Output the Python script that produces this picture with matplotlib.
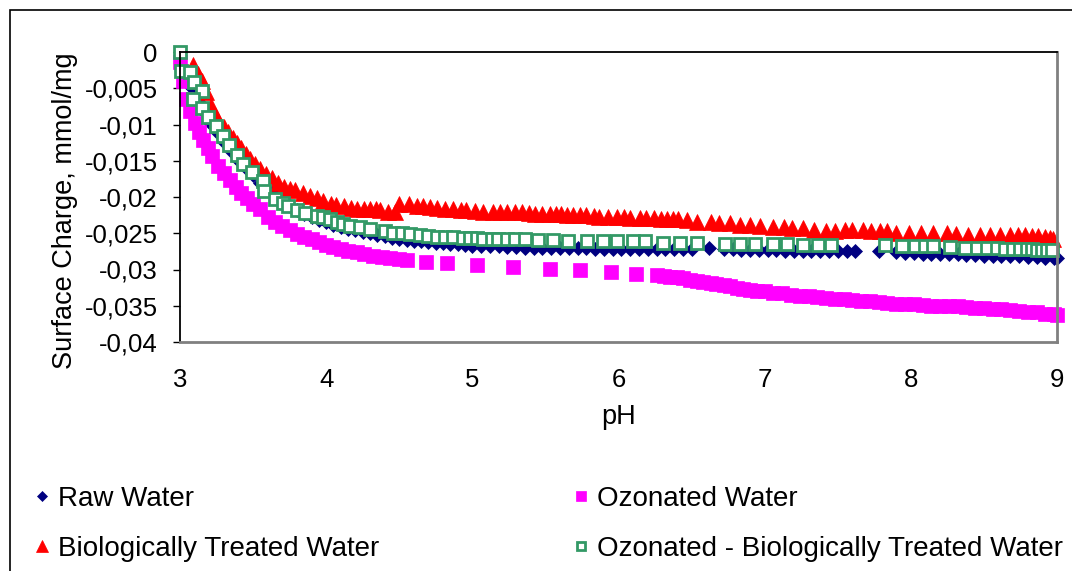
import matplotlib
matplotlib.use("Agg")
import matplotlib.pyplot as plt
from matplotlib.patches import Rectangle

plt.rcParams['font.family'] = ['Liberation Sans', 'DejaVu Sans']

# dados
raw_ph = [3.00, 3.04, 3.08, 3.12, 3.16, 3.20, 3.25, 3.30, 3.35, 3.40, 3.45, 3.50, 3.55, 3.60, 3.65,
          3.70, 3.75, 3.80, 3.85, 3.90, 3.95, 4.00, 4.05, 4.10, 4.15, 4.20, 4.25, 4.30, 4.35, 4.40,
          4.45, 4.50, 4.55, 4.60, 4.65, 4.70, 4.75, 4.80, 4.85, 4.90, 4.95, 5.00, 5.06, 5.12, 5.18,
          5.24, 5.30, 5.36, 5.42, 5.48, 5.54, 5.60, 5.66, 5.72, 5.78, 5.84, 5.90, 5.96, 6.02, 6.08,
          6.14, 6.20, 6.26, 6.32, 6.38, 6.44, 6.50, 6.62, 6.72, 6.78, 6.84, 6.90, 6.96, 7.02, 7.08,
          7.14, 7.20, 7.26, 7.32, 7.38, 7.44, 7.50, 7.56, 7.62, 7.78, 7.90, 7.96, 8.02, 8.08, 8.14,
          8.20, 8.26, 8.32, 8.38, 8.44, 8.50, 8.56, 8.62, 8.68, 8.74, 8.80, 8.86, 8.92, 8.98, 9.00]
raw_q = [-0.0008, -0.0032, -0.0050, -0.0067, -0.0082, -0.0096, -0.0111, -0.0124, -0.0137, -0.0149,
         -0.0160, -0.0170, -0.0180, -0.0189, -0.0197, -0.0205, -0.0212, -0.0218, -0.0223, -0.0228,
         -0.0232, -0.0235, -0.0238, -0.0241, -0.0244, -0.0246, -0.0248, -0.0250, -0.0252, -0.0254,
         -0.0256, -0.0258, -0.0259, -0.0260, -0.0261, -0.0262, -0.0263, -0.0264, -0.0265, -0.0265,
         -0.0266, -0.0267, -0.0267, -0.0268, -0.0268, -0.0269, -0.0269, -0.0270, -0.0270, -0.0270,
         -0.0271, -0.0271, -0.0271, -0.0271, -0.0271, -0.0272, -0.0272, -0.0272, -0.0272, -0.0272,
         -0.0272, -0.0272, -0.0272, -0.0272, -0.0272, -0.0272, -0.0272, -0.0271, -0.0272, -0.0272,
         -0.0273, -0.0273, -0.0273, -0.0273, -0.0273, -0.0274, -0.0274, -0.0274, -0.0274, -0.0275,
         -0.0275, -0.0275, -0.0275, -0.0275, -0.0275, -0.0276, -0.0277, -0.0277, -0.0278, -0.0278,
         -0.0278, -0.0279, -0.0279, -0.0280, -0.0280, -0.0281, -0.0281, -0.0281, -0.0282, -0.0282,
         -0.0283, -0.0283, -0.0284, -0.0284, -0.0284]

oz_ph = [3.00, 3.02, 3.04, 3.07, 3.10, 3.13, 3.16, 3.19, 3.22, 3.26, 3.30, 3.34, 3.38, 3.42, 3.46,
         3.50, 3.55, 3.60, 3.65, 3.70, 3.75, 3.80, 3.85, 3.90, 3.95, 4.00, 4.05, 4.10, 4.15, 4.21,
         4.26, 4.32, 4.38, 4.44, 4.50, 4.55, 4.68, 4.83, 5.03, 5.28, 5.53, 5.74, 5.95, 6.12, 6.26,
         6.31, 6.35, 6.40, 6.44, 6.49, 6.54, 6.58, 6.63, 6.67, 6.72, 6.76, 6.81, 6.85, 6.90, 6.95,
         7.00, 7.06, 7.12, 7.18, 7.24, 7.30, 7.36, 7.42, 7.48, 7.54, 7.60, 7.66, 7.72, 7.78, 7.84,
         7.90, 7.96, 8.02, 8.08, 8.14, 8.20, 8.26, 8.32, 8.38, 8.44, 8.50, 8.56, 8.62, 8.68, 8.74,
         8.80, 8.86, 8.92, 8.98, 9.00]
oz_q = [-0.0014, -0.0040, -0.0065, -0.0082, -0.0098, -0.0110, -0.0122, -0.0133, -0.0144, -0.0157,
        -0.0167, -0.0177, -0.0186, -0.0195, -0.0202, -0.0209, -0.0217, -0.0227, -0.0234, -0.0240,
        -0.0245, -0.0251, -0.0255, -0.0258, -0.0262, -0.0266, -0.0269, -0.0272, -0.0274, -0.0276,
        -0.0279, -0.0281, -0.0283, -0.0284, -0.0286, -0.0287, -0.0290, -0.0291, -0.0294, -0.0296,
        -0.0299, -0.0301, -0.0303, -0.0306, -0.0308, -0.0309, -0.0310, -0.0311, -0.0312, -0.0314,
        -0.0316, -0.0317, -0.0318, -0.0320, -0.0322, -0.0323, -0.0325, -0.0327, -0.0328, -0.0329,
        -0.0330, -0.0332, -0.0333, -0.0335, -0.0336, -0.0337, -0.0338, -0.0339, -0.0340, -0.0341,
        -0.0342, -0.0343, -0.0344, -0.0345, -0.0346, -0.0347, -0.0348, -0.0348, -0.0349, -0.0350,
        -0.0350, -0.0351, -0.0351, -0.0352, -0.0353, -0.0353, -0.0354, -0.0355, -0.0356, -0.0357,
        -0.0358, -0.0359, -0.0361, -0.0362, -0.0363]

bio_ph = [3.09, 3.12, 3.15, 3.18, 3.21, 3.24, 3.27, 3.30, 3.33, 3.36, 3.39, 3.42, 3.45, 3.48, 3.51,
          3.55, 3.59, 3.63, 3.67, 3.71, 3.75, 3.79, 3.84, 3.89, 3.94, 3.98, 4.03, 4.07, 4.12, 4.17,
          4.21, 4.26, 4.30, 4.34, 4.37, 4.42, 4.47, 4.50, 4.57, 4.62, 4.66, 4.71, 4.76, 4.81, 4.87,
          4.92, 4.96, 5.02, 5.07, 5.14, 5.19, 5.24, 5.29, 5.34, 5.39, 5.43, 5.48, 5.53, 5.57, 5.61,
          5.65, 5.69, 5.74, 5.78, 5.83, 5.87, 5.93, 5.99, 6.04, 6.08, 6.15, 6.19, 6.24, 6.29, 6.33,
          6.37, 6.41, 6.47, 6.54, 6.63, 6.69, 6.76, 6.83, 6.90, 6.97, 7.06, 7.13, 7.19, 7.26, 7.34,
          7.42, 7.48, 7.55, 7.60, 7.67, 7.73, 7.79, 7.84, 7.90, 7.99, 8.07, 8.15, 8.25, 8.31, 8.39,
          8.47, 8.54, 8.61, 8.68, 8.73, 8.78, 8.83, 8.87, 8.92, 8.95, 8.97]
bio_q = [-0.0018, -0.0030, -0.0040, -0.0055, -0.0074, -0.0087, -0.0096, -0.0103, -0.0110, -0.0118,
         -0.0126, -0.0133, -0.0140, -0.0148, -0.0155, -0.0162, -0.0168, -0.0174, -0.0180, -0.0186,
         -0.0189, -0.0191, -0.0195, -0.0199, -0.0202, -0.0205, -0.0209, -0.0211, -0.0213, -0.0215,
         -0.0216, -0.0217, -0.0217, -0.0217, -0.0218, -0.0220, -0.0221, -0.0209, -0.0210, -0.0212,
         -0.0213, -0.0214, -0.0215, -0.0216, -0.0217, -0.0218, -0.0218, -0.0219, -0.0220, -0.0221,
         -0.0220, -0.0220, -0.0221, -0.0221, -0.0222, -0.0223, -0.0223, -0.0223, -0.0224, -0.0224,
         -0.0225, -0.0225, -0.0225, -0.0225, -0.0226, -0.0227, -0.0227, -0.0227, -0.0228, -0.0229,
         -0.0229, -0.0229, -0.0229, -0.0230, -0.0231, -0.0231, -0.0231, -0.0232, -0.0234, -0.0234,
         -0.0236, -0.0236, -0.0238, -0.0238, -0.0240, -0.0241, -0.0241, -0.0243, -0.0243, -0.0245,
         -0.0247, -0.0247, -0.0245, -0.0245, -0.0246, -0.0247, -0.0247, -0.0247, -0.0249, -0.0249,
         -0.0249, -0.0250, -0.0250, -0.0251, -0.0252, -0.0252, -0.0252, -0.0252, -0.0253, -0.0253,
         -0.0253, -0.0254, -0.0254, -0.0255, -0.0257, -0.0258]

ozbio_ph = [3.000, 3.005, 3.068, 3.096, 3.148, 3.089, 3.148, 3.192, 3.246, 3.292, 3.335, 3.388, 3.431,
            3.491, 3.568, 3.575, 3.650, 3.705, 3.739, 3.798, 3.855, 3.935, 3.978, 4.026, 4.072, 4.115,
            4.163, 4.230, 4.300, 4.402, 4.457, 4.517, 4.573, 4.642, 4.697, 4.756, 4.813, 4.868, 4.936,
            4.984, 5.030, 5.073, 5.132, 5.176, 5.235, 5.292, 5.360, 5.449, 5.552, 5.654, 5.784, 5.894,
            5.990, 6.099, 6.181, 6.304, 6.420, 6.537, 6.728, 6.831, 6.934, 7.057, 7.153, 7.262, 7.365,
            7.454, 7.823, 7.939, 8.028, 8.097, 8.152, 8.268, 8.370, 8.453, 8.521, 8.590, 8.644, 8.699,
            8.747, 8.795, 8.829, 8.863, 8.897, 8.932, 8.966]
ozbio_q = [0.0, -0.00257, -0.00271, -0.00408, -0.00532, -0.00646, -0.00770, -0.00903, -0.01027,
           -0.01155, -0.01278, -0.01416, -0.01540, -0.01659, -0.01783, -0.01920, -0.02034, -0.02089,
           -0.02127, -0.02181, -0.02217, -0.02264, -0.02280, -0.02309, -0.02346, -0.02378, -0.02401,
           -0.02420, -0.02447, -0.02470, -0.02492, -0.02502, -0.02515, -0.02525, -0.02539, -0.02547,
           -0.02547, -0.02557, -0.02561, -0.02566, -0.02570, -0.02575, -0.02575, -0.02584, -0.02584,
           -0.02584, -0.02584, -0.02594, -0.02598, -0.02608, -0.02608, -0.02608, -0.02608, -0.02612,
           -0.02612, -0.02630, -0.02630, -0.02630, -0.02643, -0.02643, -0.02643, -0.02653, -0.02653,
           -0.02663, -0.02663, -0.02663, -0.02667, -0.02670, -0.02676, -0.02676, -0.02676, -0.02685,
           -0.02698, -0.02698, -0.02698, -0.02708, -0.02712, -0.02712, -0.02722, -0.02722, -0.02722,
           -0.02731, -0.02731, -0.02731, -0.02735]

y_ticks = [0, -0.005, -0.01, -0.015, -0.02, -0.025, -0.03, -0.035, -0.04]
y_labels = ['0', '-0,005', '-0,01', '-0,015', '-0,02', '-0,025', '-0,03', '-0,035', '-0,04']
x_ticks = [3, 4, 5, 6, 7, 8, 9]

W, H = 1072, 571
fig = plt.figure(figsize=(W / 100, H / 100), dpi=100)
ax = fig.add_axes([180 / W, 1 - 342 / H, 877 / W, 290 / H])

# series (ordem do Excel)
h_raw, = ax.plot(raw_ph, raw_q, ls='none', marker='D', ms=7, mfc='#000080', mec='#000080',
                 mew=0.5, clip_on=False, label='Raw Water')
h_oz, = ax.plot(oz_ph, oz_q, ls='none', marker='s', ms=10, mfc='#FF00FF', mec='#FF00FF',
                mew=0.5, clip_on=False, label='Ozonated Water')
h_bio, = ax.plot(bio_ph, bio_q, ls='none', marker='^', ms=12, mfc='#FF0000', mec='#FF0000',
                 mew=0.5, clip_on=False, label='Biologically Treated Water')
h_ozbio, = ax.plot(ozbio_ph, ozbio_q, ls='none', marker='s', ms=9, mfc='white', mec='#339966',
                   mew=2, clip_on=False, label='Ozonated - Biologically Treated Water')

ax.set_xlim(3, 9)
ax.set_ylim(-0.04, 0)
ax.set_xticks(x_ticks)
ax.set_yticks(y_ticks)
ax.set_yticklabels(y_labels)
ax.tick_params(axis='y', direction='out', length=5, width=1, pad=11, labelsize=18.5)
ax.tick_params(axis='x', length=0, pad=19, labelsize=18.5)

for s in ['left', 'top']:
    ax.spines[s].set_color('black')
    ax.spines[s].set_linewidth(1.3)
for s in ['right', 'bottom']:
    ax.spines[s].set_color('#808080')
    ax.spines[s].set_linewidth(2)

ax.set_xlabel('pH', fontsize=19.5, va='center')
ax.xaxis.set_label_coords(0.5, -(417 - 342) / 290)
ax.set_ylabel('Surface Charge, mmol/mg', fontsize=19.5, va='center')
ax.yaxis.set_label_coords((65 - 180) / 877, (342 - 211) / 290)

# legenda em duas colunas
leg_pos = [(h_raw, 32, 499), (h_oz, 571, 499), (h_bio, 32, 549), (h_ozbio, 571, 549)]
for h, px, py in leg_pos:
    fig.legend(handles=[h], loc='center left', bbox_to_anchor=(px / W, 1 - py / H),
               frameon=False, fontsize=20, handlelength=0.7, handletextpad=0.25,
               borderpad=0, borderaxespad=0, markerscale=0.7)

# moldura externa
fig.add_artist(Rectangle((10 / W, -0.1), 1.2, 1.1 - 10 / H, transform=fig.transFigure,
                         fill=False, ec='black', lw=1.2))

fig.savefig('out.png', dpi=100)
